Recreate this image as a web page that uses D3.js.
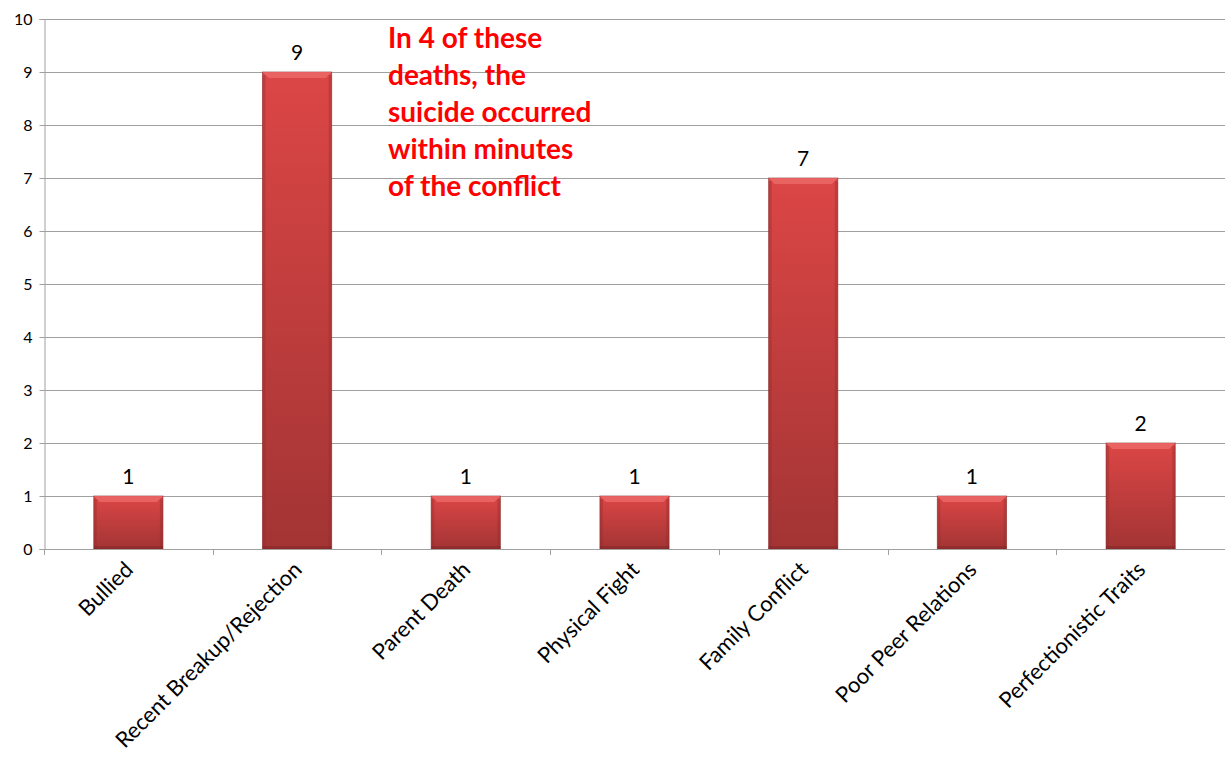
<!DOCTYPE html>
<html>
<head>
<meta charset="utf-8">
<script src="https://cdn.jsdelivr.net/npm/d3@7"></script>
<style>
  body { margin: 0; background: #fff; }
  svg { display: block; font-family: Lato, "Open Sans", sans-serif; }
</style>
</head>
<body>
<div id="chart"></div>
<script>
const categories = ["Bullied", "Recent Breakup/Rejection", "Parent Death", "Physical Fight",
  "Family Conflict", "Poor Peer Relations", "Perfectionistic Traits"];
const counts = [1, 9, 1, 1, 7, 1, 2];
const yTicks = [0, 1, 2, 3, 4, 5, 6, 7, 8, 9, 10];
const noteLines = ["In 4 of these", "deaths, the", "suicide occurred", "within minutes", "of the conflict"];

const width = 1225, height = 762;
const margin = { top: 19, right: 0, bottom: 213, left: 44 };

const svg = d3.select("#chart").append("svg")
  .attr("width", width)
  .attr("height", height);

const defs = svg.append("defs");
const grad = defs.append("linearGradient")
  .attr("id", "barFill")
  .attr("x1", 0).attr("y1", 0).attr("x2", 0).attr("y2", 1);
grad.append("stop").attr("offset", "0%").attr("stop-color", "#dc4646");
grad.append("stop").attr("offset", "100%").attr("stop-color", "#a33434");

const x = d3.scaleBand()
  .domain(categories)
  .range([margin.left, width - margin.right])
  .paddingInner(0.59)
  .paddingOuter(0.295);

const y = d3.scaleLinear()
  .domain([0, 10])
  .range([height - margin.bottom, margin.top]);

// gridlines
svg.append("g").selectAll("line")
  .data(yTicks.filter(d => d > 0))
  .enter().append("line")
  .attr("x1", margin.left).attr("x2", width)
  .attr("y1", d => y(d) + 0.5).attr("y2", d => y(d) + 0.5)
  .attr("stroke", "#a0a0a0").attr("stroke-width", 1);

// y axis
const yAxis = svg.append("g")
  .attr("transform", `translate(${margin.left + 0.5},0)`)
  .call(d3.axisLeft(y).tickValues(yTicks).tickSize(5).tickPadding(7));
yAxis.select(".domain").attr("stroke", "#a0a0a0");
yAxis.selectAll(".tick line").attr("stroke", "#a0a0a0");
yAxis.selectAll(".tick text")
  .attr("font-family", "Lato, sans-serif")
  .attr("font-size", 16)
  .attr("fill", "#000");

// bars
const bars = svg.append("g").selectAll("g")
  .data(categories.map((c, i) => ({ c, v: counts[i] })))
  .enter().append("g");

bars.append("rect")
  .attr("x", d => x(d.c))
  .attr("y", d => y(d.v))
  .attr("width", x.bandwidth())
  .attr("height", d => y(0) - y(d.v))
  .attr("fill", "url(#barFill)")
  .attr("stroke", "#8a2a2a")
  .attr("stroke-opacity", 0.6)
  .attr("stroke-width", 1);

// bevel top
bars.append("path")
  .attr("d", d => {
    const x0 = x(d.c), x1 = x0 + x.bandwidth(), t = y(d.v);
    return `M${x0},${t}L${x1},${t}L${x1 - 6},${t + 6}L${x0 + 6},${t + 6}Z`;
  })
  .attr("fill", "#ee6a6a")
  .attr("opacity", 0.8);

// bevel sides
bars.append("rect")
  .attr("x", d => x(d.c))
  .attr("y", d => y(d.v) + 3)
  .attr("width", 3)
  .attr("height", d => y(0) - y(d.v) - 3)
  .attr("fill", "#902a2a").attr("opacity", 0.35);
bars.append("rect")
  .attr("x", d => x(d.c) + x.bandwidth() - 3)
  .attr("y", d => y(d.v) + 3)
  .attr("width", 3)
  .attr("height", d => y(0) - y(d.v) - 3)
  .attr("fill", "#902a2a").attr("opacity", 0.35);
bars.append("rect")
  .attr("x", d => x(d.c))
  .attr("y", y(0) - 3)
  .attr("width", x.bandwidth())
  .attr("height", 3)
  .attr("fill", "#7a2222").attr("opacity", 0.4);

// value labels
bars.append("text")
  .attr("x", d => x(d.c) + x.bandwidth() / 2)
  .attr("y", d => y(d.v) - 12)
  .attr("text-anchor", "middle")
  .attr("font-size", 21)
  .attr("fill", "#000")
  .text(d => d.v);

// x axis line + ticks between categories
svg.append("line")
  .attr("x1", margin.left).attr("x2", width)
  .attr("y1", y(0) + 0.5).attr("y2", y(0) + 0.5)
  .attr("stroke", "#a0a0a0");
const step = x.step();
svg.append("g").selectAll("line")
  .data(d3.range(categories.length + 1))
  .enter().append("line")
  .attr("x1", i => Math.round(margin.left + i * step) + 0.5)
  .attr("x2", i => Math.round(margin.left + i * step) + 0.5)
  .attr("y1", y(0)).attr("y2", y(0) + 6)
  .attr("stroke", "#a0a0a0");

// category labels
svg.append("g").selectAll("text")
  .data(categories)
  .enter().append("text")
  .attr("transform", d => `translate(${x(d) + x.bandwidth() / 2 + 6},${y(0) + 22}) rotate(-45)`)
  .attr("text-anchor", "end")
  .attr("font-size", 22)
  .attr("fill", "#000")
  .text(d => d);

// annotation
svg.append("text")
  .attr("x", 388)
  .attr("y", 48)
  .attr("font-size", 28)
  .attr("font-weight", "bold")
  .attr("fill", "#ff0000")
  .selectAll("tspan")
  .data(noteLines)
  .enter().append("tspan")
  .attr("x", 388)
  .attr("dy", (d, i) => i === 0 ? 0 : 37)
  .text(d => d);
</script>
</body>
</html>
